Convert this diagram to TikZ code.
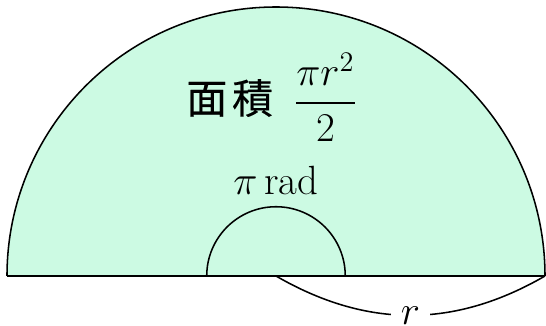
\documentclass[tikz,border=0pt]{standalone}
\usepackage{amsmath}
\usepackage{fontspec}
\usetikzlibrary{positioning}
\newfontfamily\cjk[FakeBold=0.4]{Noto Sans CJK JP}
\definecolor{mint}{RGB}{204,250,227}

\begin{document}
\begin{tikzpicture}[
  % Outline of the half disc and the angle mark
  rim/.style={draw=black, line width=0.65pt},
  base/.style={draw=black, line width=0.85pt},
  % Labels
  lbl/.style={font=\LARGE, inner sep=2pt}
  ]
  \useasboundingbox (-4.104,-0.729) rectangle (4.015,4.104);

  % --- Points ---
  \coordinate (O) at (0,0);
  \coordinate (A) at (-4,0);
  \coordinate (B) at (4,0);
  \coordinate (T) at (0,1.03);

  % --- Half disc ---
  \fill[mint] (B) arc (0:180:4) -- cycle;
  \draw[rim] (B) arc (0:180:4);
  \draw[base] (A) -- (B);

  % --- Angle mark ---
  \draw[rim] (1.03,0) arc (0:180:1.03);
  \node[lbl, above=3pt of T] (ang) {$\pi\,\mathrm{rad}$};

  % --- Area ---
  \node[lbl] (area) at (-0.06,2.66) {{\cjk 面\hspace{0.12em}積}\hspace{0.5em}$\dfrac{\pi r^2}{2}$};

  % --- Radius ---
  \draw[rim] (O) to[bend right=30] node[lbl, fill=white, inner xsep=4pt, inner ysep=0pt] (rad) {$r$} (B);
\end{tikzpicture}
\end{document}
